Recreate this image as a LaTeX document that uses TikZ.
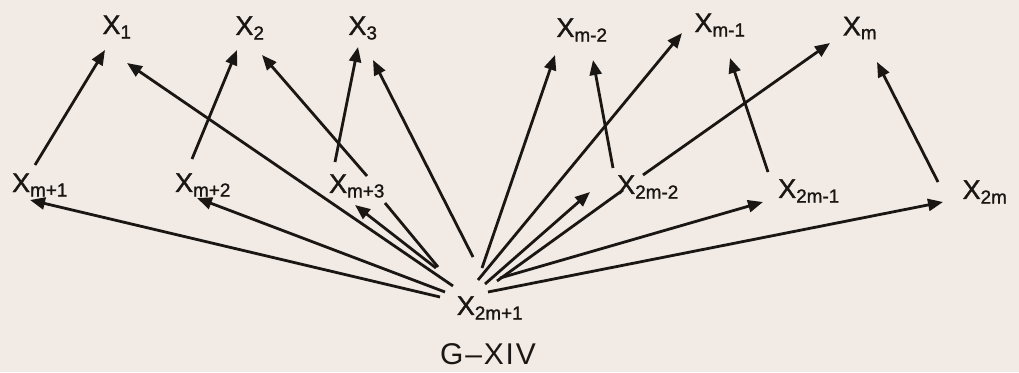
\documentclass[tikz,border=0pt]{standalone}
\usepackage{fontspec}
\setmainfont{Liberation Sans}
\usetikzlibrary{arrows.meta}
\definecolor{bg}{RGB}{242,234,228}
\definecolor{ink}{RGB}{25,22,20}
\begin{document}
\begin{tikzpicture}[x=1pt,y=-1pt,
  lab/.style={inner sep=0pt,font=\fontsize{27}{29}\selectfont\addfontfeature{FakeBold=1.2},text=ink},
  arr/.style={draw=ink,line width=2.8pt,-{Triangle[length=15pt,width=12pt]}},
  ln/.style={draw=ink,line width=2.8pt}]
\fill[bg] (0,0) rectangle (1019,372);
\useasboundingbox (0,0) rectangle (1019,372);
% top row
\node[lab] (x1)  at (117,27) {X\textsubscript{1}};
\node[lab] (x2)  at (250,28) {X\textsubscript{2}};
\node[lab] (x3)  at (363,28) {X\textsubscript{3}};
\node[lab] (xmb) at (582,30) {X\textsubscript{m-2}};
\node[lab] (xma) at (720,25) {X\textsubscript{m-1}};
\node[lab] (xm)  at (860,28) {X\textsubscript{m}};
% middle row
\node[lab] (xp1) at (40,185)  {X\textsubscript{m+1}};
\node[lab] (xp2) at (203,185) {X\textsubscript{m+2}};
\node[lab] (xp3) at (357,186) {X\textsubscript{m+3}};
\node[lab] (xqb) at (648,187) {X\textsubscript{2m-2}};
\node[lab] (xqa) at (809,191) {X\textsubscript{2m-1}};
\node[lab] (xq)  at (985,192) {X\textsubscript{2m}};
% bottom
\node[lab] (xr)  at (490,308) {X\textsubscript{2m+1}};
\node[inner sep=0pt,text=ink,font=\fontsize{30}{32}\selectfont\addfontfeature{LetterSpace=6}] (cap) at (488,354) {G–XIV};
% connectors
\draw[arr] ([shift={(-5,-20)}]xp1.center) -- ([shift={(-12,23)}]x1.center);
\draw[arr] ([shift={(-37,-22)}]xr.center) -- ([shift={(10,36)}]x1.center);
\draw[arr] ([shift={(-11,-26)}]xp2.center) -- ([shift={(-13,22)}]x2.center);
\draw[arr] ([shift={(10,-10)}]xp3.center) -- ([shift={(12,27)}]x2.center);
\draw[arr] ([shift={(-22,-24)}]xp3.center) -- ([shift={(-5,19)}]x3.center);
\draw[arr] ([shift={(-17,-51)}]xr.center) -- ([shift={(10,32)}]x3.center);
\draw[arr] ([shift={(-50,-11)}]xr.center) -- ([shift={(-10,15)}]xp1.center);
\draw[arr] ([shift={(-45,-16)}]xr.center) -- ([shift={(-6,13)}]xp2.center);
\draw[arr] ([shift={(-54,-40)}]xr.center) -- ([shift={(-2,19)}]xp3.center);
\draw[ln]  ([shift={(28,17)}]xp3.center) -- ([shift={(-52,-41)}]xr.center);
\draw[arr] ([shift={(-8,-40)}]xr.center) -- ([shift={(-27,25)}]xmb.center);
\draw[arr] ([shift={(-35,-19)}]xqb.center) -- ([shift={(11,30)}]xmb.center);
\draw[arr] ([shift={(-12,-28)}]xr.center) -- ([shift={(-38,8)}]xma.center);
\draw[arr] ([shift={(-5,-24)}]xr.center) -- ([shift={(-58,5)}]xqb.center);
\draw[ln]  ([shift={(7,-27)}]xr.center) -- ([shift={(-25,3)}]xqb.center);
\draw[arr] ([shift={(-5,-12)}]xqb.center) -- ([shift={(-30,15)}]xm.center);
\draw[arr] ([shift={(-41,-19)}]xqa.center) -- ([shift={(10,33)}]xma.center);
\draw[arr] ([shift={(-47,-10)}]xq.center) -- ([shift={(17,34)}]xm.center);
\draw[arr] ([shift={(10,-30)}]xr.center) -- ([shift={(-46,11)}]xqa.center);
\draw[arr] ([shift={(-2,-16)}]xr.center) -- ([shift={(-42,10)}]xq.center);
\end{tikzpicture}
\end{document}
